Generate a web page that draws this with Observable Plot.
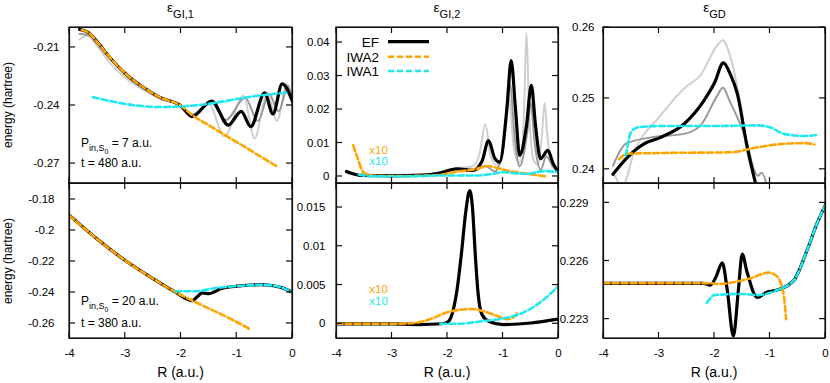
<!DOCTYPE html>
<html><head><meta charset="utf-8">
<script src="https://cdn.jsdelivr.net/npm/d3@7"></script>
<script src="https://cdn.jsdelivr.net/npm/@observablehq/plot@0.6"></script>
<style>
body{margin:0;background:#fff;}
#chart{position:relative;width:830px;height:383px;font-family:"Liberation Sans",Arial,Helvetica,sans-serif;overflow:hidden;}
#chart > div{position:absolute;}
#overlay{position:absolute;left:0;top:0;}
</style></head><body><div id="chart"></div>
<script>
// ---------- data (R in a.u., energy in hartree) ----------
const xTicks = [-4, -3, -2, -1, 0];

// top-left: eps_GI,1  (P=7, t=480)
const gi1aTicks = [-0.21, -0.24, -0.27];
const gi1a_light = [[-3.82,-0.2059],[-3.68,-0.2040],[-3.5,-0.2095],[-3.26,-0.2185],[-2.96,-0.2265],[-2.67,-0.2320],[-2.37,-0.2365],[-2.01,-0.2400],[-1.8,-0.2445],[-1.5,-0.2395],[-1.22,-0.2560],[-0.88,-0.2350],[-0.68,-0.2570],[-0.45,-0.2335],[-0.28,-0.2480],[-0.10,-0.2290],[0,-0.2370]];
const gi1a_dark = [[-3.82,-0.2030],[-3.6,-0.2040],[-3.26,-0.2160],[-2.96,-0.2250],[-2.67,-0.2310],[-2.37,-0.2360],[-2.01,-0.2400],[-1.8,-0.2450],[-1.47,-0.2380],[-1.2,-0.2475],[-0.85,-0.2360],[-0.62,-0.2480],[-0.42,-0.2340],[-0.25,-0.2430],[-0.08,-0.2300],[0,-0.2385]];
const gi1a_EF = [[-3.82,-0.2007],[-3.66,-0.2023],[-3.50,-0.2074],[-3.26,-0.2157],[-2.96,-0.2245],[-2.67,-0.2307],[-2.37,-0.2359],[-2.01,-0.2400],[-1.80,-0.2457],[-1.45,-0.2377],[-1.15,-0.2501],[-0.92,-0.2430],[-0.75,-0.2509],[-0.50,-0.2335],[-0.35,-0.2444],[-0.185,-0.2288],[0,-0.2379]];
const gi1a_IWA2 = [[-3.78,-0.2010],[-3.66,-0.2023],[-3.50,-0.2074],[-3.26,-0.2157],[-2.96,-0.2245],[-2.67,-0.2307],[-2.37,-0.2359],[-2.01,-0.2400],[-1.79,-0.2452],[-1.52,-0.2499],[-1.06,-0.2579],[-0.65,-0.2650],[-0.25,-0.2720]];
const gi1a_IWA1 = [[-3.58,-0.2357],[-3.3,-0.2375],[-3.0,-0.2392],[-2.7,-0.2403],[-2.4,-0.2408],[-2.0,-0.2405],[-1.6,-0.2395],[-1.2,-0.2377],[-0.8,-0.2357],[-0.4,-0.2342],[-0.1,-0.2334]];

// bottom-left: eps_GI,1  (P=20, t=380)
const gi1bTicks = [-0.18, -0.2, -0.22, -0.24, -0.26];
const gi1b_EF = [[-4,-0.1903],[-3.5,-0.2057],[-3,-0.2194],[-2.5,-0.2311],[-2.1,-0.2398],[-1.8,-0.2452],[-1.7,-0.2425],[-1.62,-0.2403],[-1.5,-0.2408],[-1.4,-0.2396],[-1.3,-0.2378],[-0.99,-0.2359],[-0.57,-0.2350],[-0.215,-0.2366],[-0.07,-0.2387],[0,-0.2398]];
const gi1b_IWA2 = [[-4,-0.1903],[-3.5,-0.2057],[-3,-0.2194],[-2.5,-0.2311],[-2.1,-0.2398],[-1.8,-0.2452],[-1.08,-0.2576],[-0.74,-0.2641]];
const gi1b_IWA1 = [[-2.1,-0.2392],[-1.75,-0.2392],[-1.35,-0.2370],[-0.99,-0.2359],[-0.57,-0.2350],[-0.215,-0.2366],[-0.07,-0.2387],[0,-0.2398]];

// top-middle: eps_GI,2  (IWA curves x10)
const gi2aTicks = [0, 0.01, 0.02, 0.03, 0.04];
const gi2a_light = [[-3.82,0.0012],[-3.54,0.0003],[-2.5,0.0004],[-1.83,0.0025],[-1.55,0.003],[-1.42,0.007],[-1.32,0.0155],[-1.22,0.006],[-1.12,0.0035],[-1.0,0.008],[-0.9,0.024],[-0.8,0.008],[-0.7,0.004],[-0.62,0.02],[-0.577,0.043],[-0.53,0.02],[-0.45,0.005],[-0.37,0.0035],[-0.3,0.012],[-0.25,0.022],[-0.2,0.012],[-0.12,0.003],[0,0.002]];
const gi2a_dark = [[-3.82,0.0012],[-3.54,0.0002],[-2.5,0.0003],[-1.83,0.002],[-1.55,0.0017],[-1.32,0.0032],[-1.15,0.0015],[-1.0,0.008],[-0.88,0.028],[-0.78,0.01],[-0.7,0.003],[-0.55,0.015],[-0.5,0.022],[-0.43,0.01],[-0.32,0.002],[-0.22,0.006],[-0.1,0.003],[0,0.001]];
const gi2a_EF = [[-3.82,0.0015],[-3.54,0.0003],[-3.0,0.0002],[-2.5,0.0004],[-2.19,0.0008],[-1.83,0.0023],[-1.55,0.0018],[-1.38,0.0045],[-1.26,0.0107],[-1.15,0.0055],[-1.06,0.0043],[-0.93,0.0202],[-0.853,0.0346],[-0.775,0.0202],[-0.70,0.0063],[-0.577,0.0152],[-0.49,0.0272],[-0.414,0.0152],[-0.325,0.0053],[-0.19,0.0078],[-0.1,0.004],[0,0.0013]];
const gi2a_IWA2 = [[-3.70,0.0093],[-3.62,0.0055],[-3.55,0.0022],[-3.48,0.0008],[-3.3,0.0002],[-3.0,0.0001],[-2.5,0.0002],[-2.13,0.0005],[-1.89,0.0013],[-1.53,0.0021],[-1.26,0.0031],[-1.1,0.0025],[-0.93,0.0018],[-0.57,0.0008],[-0.21,0.0]];
const gi2a_IWA1 = [[-3.6,0.0006],[-3.4,0.0001],[-3.0,0.0],[-2.5,0.0001],[-2.13,0.0003],[-1.53,0.0003],[-1.2,0.0007],[-0.99,0.0013],[-0.8,0.001],[-0.56,0.0008],[-0.26,0.0016],[0,0.0013]];

// bottom-middle: eps_GI,2
const gi2bTicks = [0, 0.005, 0.01, 0.015];
const gi2b_EF = [[-4,0.0],[-3,0.0],[-2.5,-0.0001],[-2.1,0.0],[-2.0,0.0002],[-1.92,0.0012],[-1.83,0.0043],[-1.75,0.009],[-1.67,0.0145],[-1.6,0.0172],[-1.55,0.015],[-1.5,0.009],[-1.45,0.004],[-1.38,0.0012],[-1.25,0.0003],[-1.0,-0.0001],[-0.5,0.0001],[0,0.0006]];
const gi2b_IWA2 = [[-4,0],[-3,0],[-2.6,0.0001],[-2.31,0.0006],[-2.0,0.0015],[-1.56,0.0019],[-1.3,0.0015],[-1.10,0.001],[-0.92,0.0006],[-0.8,0.0009],[-0.75,0.0013]];
const gi2b_IWA1 = [[-2.13,0],[-1.8,0.0],[-1.41,0.0003],[-0.99,0.0007],[-0.68,0.0013],[-0.38,0.0025],[-0.14,0.0039],[0,0.0049]];

// top-right: eps_GD
const gdaTicks = [0.24, 0.25, 0.26];
const gda_light = [[-3.8,0.2392],[-3.66,0.2376],[-3.45,0.2424],[-2.97,0.2476],[-2.55,0.2514],[-2.25,0.2533],[-1.95,0.2575],[-1.85,0.2582],[-1.72,0.2560],[-1.55,0.2500],[-1.41,0.2431],[-1.25,0.2375]];
const gda_dark = [[-3.83,0.2405],[-3.6,0.2436],[-3.15,0.2445],[-2.55,0.2450],[-2.25,0.2462],[-1.95,0.2504],[-1.85,0.2515],[-1.72,0.2495],[-1.41,0.2436],[-1.29,0.2400],[-1.22,0.2391],[-1.15,0.2395],[-1.05,0.2376]];
const gda_EF = [[-3.83,0.2393],[-3.57,0.2417],[-3.27,0.2436],[-2.97,0.2445],[-2.55,0.2464],[-2.19,0.2497],[-2.0,0.2522],[-1.84,0.2550],[-1.72,0.2535],[-1.59,0.2507],[-1.41,0.2431],[-1.26,0.2380],[-1.2,0.2360]];
const gda_IWA2 = [[-3.72,0.2414],[-3.57,0.2422],[-3.0,0.2423],[-1.71,0.2424],[-1.23,0.2431],[-0.75,0.2436],[-0.39,0.2437],[-0.2,0.2435]];
const gda_IWA1 = [[-3.60,0.2419],[-3.55,0.2440],[-3.51,0.2452],[-3.39,0.2459],[-3.0,0.2461],[-2.0,0.2461],[-1.23,0.2462],[-0.99,0.2459],[-0.75,0.2450],[-0.39,0.2447],[-0.12,0.2449]];

// bottom-right: eps_GD
const gdbTicks = [0.223, 0.226, 0.229];
const gdb_EF = [[-4,0.22485],[-2.2,0.22485],[-2.07,0.22476],[-1.97,0.2252],[-1.86,0.22591],[-1.77,0.2245],[-1.66,0.22212],[-1.57,0.2245],[-1.50,0.22636],[-1.42,0.2255],[-1.23,0.22412],[-1.05,0.2244],[-0.87,0.2245],[-0.57,0.2250],[-0.33,0.22657],[-0.15,0.22795],[0,0.2289]];
const gdb_IWA2 = [[-4,0.22485],[-2.05,0.22485],[-1.95,0.22481],[-1.35,0.22511],[-1.02,0.2254],[-0.92,0.2253],[-0.87,0.2252],[-0.8,0.2248],[-0.75,0.2242],[-0.71,0.2230]];
const gdb_IWA1 = [[-2.14,0.22384],[-2.07,0.2241],[-2.01,0.22424],[-1.5,0.2243],[-1.23,0.22424],[-0.87,0.2245],[-0.57,0.2250],[-0.33,0.22657],[-0.15,0.22795],[0,0.2289]];

// ---------- styles ----------
const FONT = '"Liberation Sans", Arial, Helvetica, sans-serif';
const C = {light:"#cfcfcf", dark:"#9a9a9a", EF:"#000000", IWA2:"#ffa500", IWA1:"#1ee8f0"};
const sLight = d => ({data:d, stroke:C.light, w:2});
const sDark = d => ({data:d, stroke:C.dark, w:2});
const sEF = d => ({data:d, stroke:C.EF, w:3.2});
const sIWA2 = d => ({data:d, stroke:C.IWA2, w:2.6, dash:"6,3"});
const sIWA1 = d => ({data:d, stroke:C.IWA1, w:2.6, dash:"6,3"});
const rows = a => a.map(([R, v]) => ({R, v}));
const panels = [];

function panel(o) {
  const marks = [];
  for (const s of o.series) {
    const opts = {x:"R", y:"v", stroke:s.stroke, strokeWidth:s.w, curve:"monotone-x", clip:true};
    if (s.dash) opts.strokeDasharray = s.dash;
    marks.push(Plot.line(rows(s.data), opts));
  }
  // frame edges as rules drawn by Plot
  marks.push(Plot.ruleX([-4, 0], {stroke:"#111", strokeWidth:1.2}));
  marks.push(Plot.ruleY(o.ydomain, {stroke:"#111", strokeWidth:1.2}));
  marks.push(Plot.axisY(o.yticks, {tickSize:0, tickPadding:o.ypad, tickFormat:d=>String(d), label:null, fontSize:11.5}));
  if (o.xlabels) marks.push(Plot.axisX(xTicks, {tickSize:0, tickPadding:10, tickFormat:d=>String(d), label:null, fontSize:11.5}));
  const svg = Plot.plot({
    width:o.width, height:o.height,
    marginLeft:o.ml, marginRight:o.mr, marginTop:o.mt, marginBottom:o.mb,
    x:{domain:[-4,0], axis: o.xlabels ? undefined : null},
    y:{domain:o.ydomain},
    style:{fontFamily:FONT, fontSize:"11.5px", color:"#000", background:"transparent", overflow:"visible"},
    marks
  });
  const div = document.createElement("div");
  div.style.left = o.left + "px"; div.style.top = o.top + "px";
  div.appendChild(svg);
  document.getElementById("chart").appendChild(div);
  panels.push({svg, o});
}

const col = [
  {left:0, width:300, ml:69, mr:8},
  {left:290, width:275, ml:46, mr:7},
  {left:560, width:270, ml:43, mr:5}
];
const row = [
  {top:0, height:190, mt:27, mb:7},
  {top:176, height:207, mt:7, mb:45}
];

panel({...col[0], ...row[0], ydomain:[-0.2803,-0.1997], yticks:gi1aTicks, ypad:10,
  series:[sLight(gi1a_light), sDark(gi1a_dark), sEF(gi1a_EF), sIWA2(gi1a_IWA2), sIWA1(gi1a_IWA1)]});
panel({...col[0], ...row[1], ydomain:[-0.2697,-0.1697], yticks:gi1bTicks, ypad:15, xlabels:true,
  series:[sEF(gi1b_EF), sIWA2(gi1b_IWA2), sIWA1(gi1b_IWA1)]});
panel({...col[1], ...row[0], ydomain:[-0.0021,0.0445], yticks:gi2aTicks, ypad:7,
  series:[sLight(gi2a_light), sDark(gi2a_dark), sEF(gi2a_EF), sIWA2(gi2a_IWA2), sIWA1(gi2a_IWA1)]});
panel({...col[1], ...row[1], ydomain:[-0.0019,0.0181], yticks:gi2bTicks, ypad:11, xlabels:true,
  series:[sEF(gi2b_EF), sIWA2(gi2b_IWA2), sIWA1(gi2b_IWA1)]});
panel({...col[2], ...row[0], ydomain:[0.2380,0.2600], yticks:gdaTicks, ypad:9,
  series:[sLight(gda_light), sDark(gda_dark), sEF(gda_EF), sIWA2(gda_IWA2), sIWA1(gda_IWA1)]});
panel({...col[2], ...row[1], ydomain:[0.2220,0.2300], yticks:gdbTicks, ypad:15, xlabels:true,
  series:[sEF(gdb_EF), sIWA2(gdb_IWA2), sIWA1(gdb_IWA1)]});

// ---------- overlay: frame edges + inward ticks as filled bars (positions from Plot's scales) ----------
const NS = "http://www.w3.org/2000/svg";
const ov = document.createElementNS(NS, "svg");
ov.setAttribute("id", "overlay");
ov.setAttribute("width", 830); ov.setAttribute("height", 383);
ov.setAttribute("font-family", FONT);
document.getElementById("chart").appendChild(ov);
function el(tag, attrs, parent = ov) {
  const e = document.createElementNS(NS, tag);
  for (const k in attrs) e.setAttribute(k, attrs[k]);
  parent.appendChild(e); return e;
}
const LW = 1.2;
function hbar(g, xa, xb, y) { el("rect", {x:Math.min(xa, xb), y:y - LW / 2, width:Math.abs(xb - xa), height:LW, fill:"#111"}, g); }
function vbar(g, x, ya, yb) { el("rect", {x:x - LW / 2, y:Math.min(ya, yb), width:LW, height:Math.abs(yb - ya), fill:"#111"}, g); }
for (const {svg, o} of panels) {
  const sx = svg.scale("x"), sy = svg.scale("y");
  const X = v => o.left + sx.apply(v), Y = v => o.top + sy.apply(v);
  const x0 = X(-4), x1 = X(0), y0 = Y(o.ydomain[1]), y1 = Y(o.ydomain[0]);
  const g = el("g", {});
  hbar(g, x0 - LW / 2, x1 + LW / 2, y0); hbar(g, x0 - LW / 2, x1 + LW / 2, y1);
  vbar(g, x0, y0, y1); vbar(g, x1, y0, y1);
  for (const t of xTicks) { vbar(g, X(t), y0, y0 + 6); vbar(g, X(t), y1 - 6, y1); }
  for (const t of o.yticks) { hbar(g, x0, x0 + 6, Y(t)); hbar(g, x1 - 6, x1, Y(t)); }
}
function rich(x, y, parts, attrs = {}) {
  const t = el("text", {x, y, ...attrs});
  for (const p of parts) {
    const s = el("tspan", {"font-size": p.size, ...(p.dy ? {dy: p.dy} : {})}, t);
    s.textContent = p.t;
  }
  return t;
}
const titles = [[180.5, "GI,1"], [447, "GI,2"], [714.5, "GD"]];
for (const [x, sub] of titles)
  rich(x, 12, [{t:"ε", size:13.5}, {t:sub, size:11, dy:5.5}], {"text-anchor":"middle"});
for (const cy of [105, 261]) {
  const t = el("text", {transform:`translate(11.5,${cy}) rotate(-90)`, "text-anchor":"middle", "font-size":12});
  t.textContent = "energy (hartree)";
}
for (const cx of [180.5, 447, 714]) {
  const t = el("text", {x:cx, y:377, "text-anchor":"middle", "font-size":14});
  t.textContent = "R (a.u.)";
}
const annot = [[147.3, 166.7, "7", "480"], [305.3, 327.3, "20", "380"]];
for (const [yp, yt, p, tt] of annot) {
  rich(81, yp, [{t:"P", size:12}, {t:"in,S", size:9, dy:4}, {t:"0", size:7, dy:2.5}, {t:` = ${p} a.u.`, size:12, dy:-6.5}]);
  const t = el("text", {x:81, y:yt, "font-size":12}); t.textContent = `t = ${tt} a.u.`;
}
for (const [yo, yc] of [[153.5, 164.5], [292.5, 305]]) {
  const a = el("text", {x:369.3, y:yo, "font-size":11.5, fill:C.IWA2}); a.textContent = "x10";
  const b = el("text", {x:369.3, y:yc, "font-size":11.5, fill:C.IWA1}); b.textContent = "x10";
}
const legend = [["EF", 41.7, C.EF, 3.2, null], ["IWA2", 56.7, C.IWA2, 2.6, "6,3"], ["IWA1", 71, C.IWA1, 2.6, "6,3"]];
for (const [name, y, stroke, w, dash] of legend) {
  const t = el("text", {x:379, y:y + 4.8, "text-anchor":"end", "font-size":13.5}); t.textContent = name;
  const l = el("line", {x1:388, x2:429, y1:y, y2:y, stroke, "stroke-width":w});
  if (dash) l.setAttribute("stroke-dasharray", dash);
}
</script></body></html>
